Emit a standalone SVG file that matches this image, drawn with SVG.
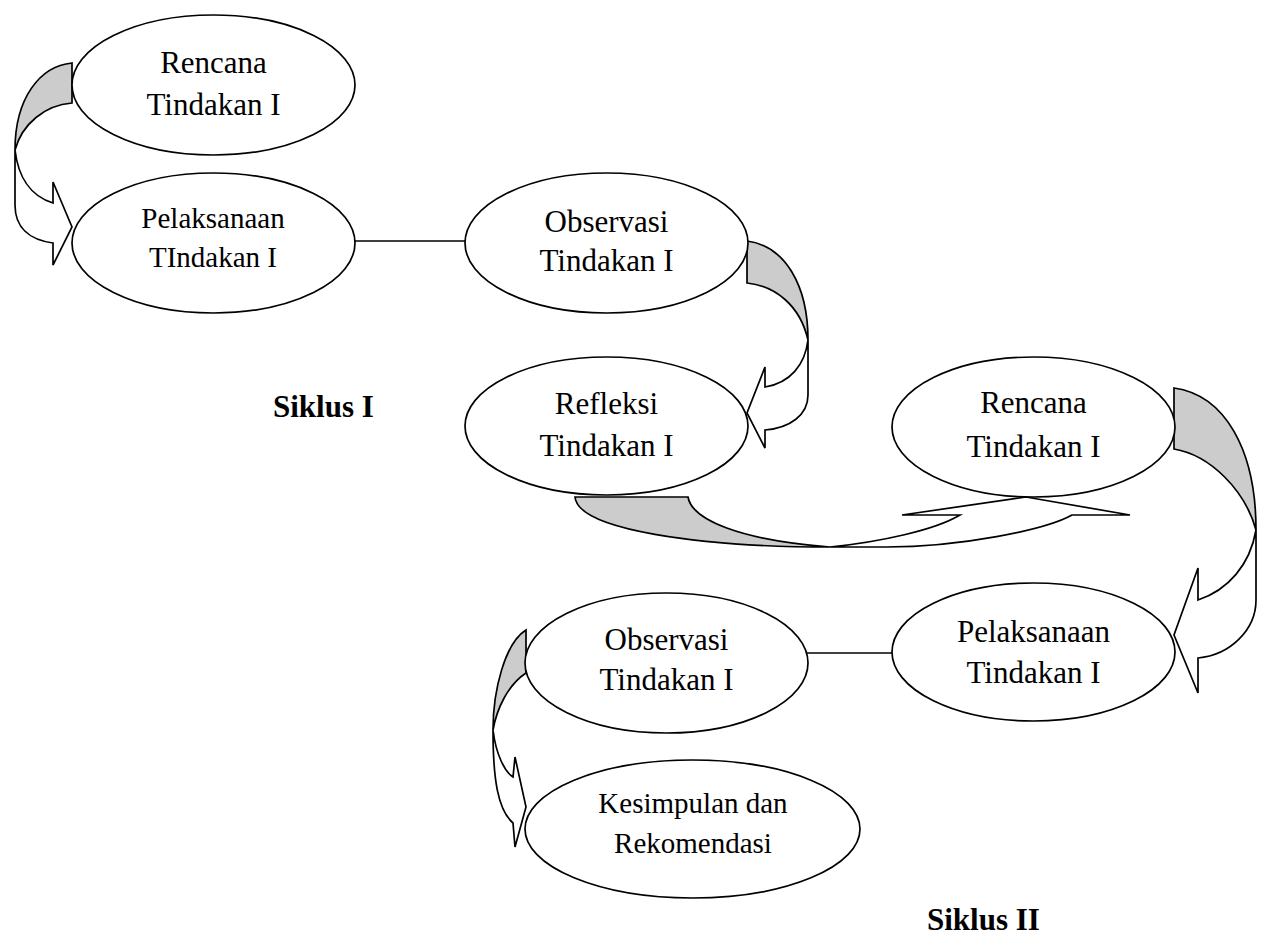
<svg xmlns="http://www.w3.org/2000/svg" width="1262" height="939" viewBox="0 0 1262 939">
<style>
.bg{fill:#ffffff}
.node{fill:#ffffff;stroke:#000000;stroke-width:1.7}
.ln{fill:none;stroke:#000000;stroke-width:1.7}
.back{fill:#cccccc;stroke:#000000;stroke-width:1.7;stroke-linejoin:miter}
.front{fill:#ffffff;stroke:#000000;stroke-width:1.7;stroke-linejoin:miter}
.t{font-family:"Liberation Serif","Times New Roman",serif;font-size:31px;fill:#000000;text-anchor:middle}
.ts{font-size:29px}
.b{font-family:"Liberation Serif","Times New Roman",serif;font-size:31px;font-weight:bold;fill:#000000}
</style>
<rect class="bg" x="0" y="0" width="1262" height="939"/>
<g id="connectors">
  <line class="ln" x1="355" y1="241" x2="465" y2="241"/>
  <line class="ln" x1="800" y1="653" x2="892" y2="653"/>
  <g id="arrow1">
    <path class="back" d="M72,63 C40,66 15,98 15,150 C22,124 45,105 72,103 Z"/>
    <path class="front" d="M15,150 L15,205 C15,228 30,240 53,243 L53,265 L72,227 L53,182 L53,203 C30,196 18,176 15,150 Z"/>
  </g>
  <g id="arrow2">
    <path class="back" d="M747,241 C785,246 808,285 808,340 C800,305 775,286 747,283 Z"/>
    <path class="front" d="M808,340 L808,395 C808,415 790,428 765,430 L765,448 L747,413 L765,367 L765,387 C790,383 805,365 808,340 Z"/>
  </g>
  <g id="arrow3">
    <path class="back" d="M575,497 C578,530 700,547 830,547 C740,540 692,520 688,497 Z"/>
    <path class="front" d="M830,547 L886,547 C960,547 1045,530 1072,515 L1130,515 L1026,497 L902,515 L960,515 C935,530 880,542 830,547 Z"/>
  </g>
  <g id="arrow4">
    <path class="back" d="M1174,388 C1225,395 1256,450 1256,530 C1245,490 1210,455 1174,449 Z"/>
    <path class="front" d="M1256,530 L1256,600 C1256,630 1230,655 1198,658 L1198,693 L1174,635 L1198,568 L1198,600 C1228,590 1250,565 1256,530 Z"/>
  </g>
  <g id="arrow5">
    <path class="back" d="M526,630 C505,643 493,690 493,730 C497,708 508,685 526,673 Z"/>
    <path class="front" d="M493,730 C493,780 498,810 513,823 L515,847 L526,807 L515,757 L513,777 C505,772 496,755 493,730 Z"/>
  </g>
</g>
<g id="node-rencana1">
  <ellipse class="node" cx="213.5" cy="85" rx="141.5" ry="70"/>
  <text class="t" x="213.5" y="73">Rencana</text>
  <text class="t" x="213.5" y="115">Tindakan I</text>
</g>
<g id="node-pelaksanaan1">
  <ellipse class="node" cx="213.5" cy="243" rx="141.5" ry="70"/>
  <text class="t ts" x="213" y="228">Pelaksanaan</text>
  <text class="t ts" x="213" y="267">TIndakan I</text>
</g>
<g id="node-observasi1">
  <ellipse class="node" cx="606.5" cy="243" rx="141.5" ry="70"/>
  <text class="t" x="606.5" y="232">Observasi</text>
  <text class="t" x="606.5" y="271">Tindakan I</text>
</g>
<g id="node-refleksi1">
  <ellipse class="node" cx="606.5" cy="426" rx="141.5" ry="69"/>
  <text class="t" x="606.5" y="414">Refleksi</text>
  <text class="t" x="606.5" y="456">Tindakan I</text>
</g>
<g id="node-rencana2">
  <ellipse class="node" cx="1033.5" cy="427" rx="141.5" ry="70"/>
  <text class="t" x="1033.5" y="413">Rencana</text>
  <text class="t" x="1033.5" y="457">Tindakan I</text>
</g>
<g id="node-pelaksanaan2">
  <ellipse class="node" cx="1033.5" cy="652" rx="141.5" ry="69"/>
  <text class="t" x="1033.5" y="642">Pelaksanaan</text>
  <text class="t" x="1033.5" y="683">Tindakan I</text>
</g>
<g id="node-observasi2">
  <ellipse class="node" cx="666.5" cy="663" rx="141.5" ry="70"/>
  <text class="t" x="666.5" y="650">Observasi</text>
  <text class="t" x="666.5" y="690">Tindakan I</text>
</g>
<g id="node-kesimpulan">
  <ellipse class="node" cx="692.5" cy="829" rx="167.5" ry="69"/>
  <text class="t ts" x="693" y="813">Kesimpulan dan</text>
  <text class="t ts" x="693" y="853">Rekomendasi</text>
</g>
<text class="b" x="273" y="417">Siklus I</text>
<text class="b" x="927" y="930">Siklus II</text>
</svg>
